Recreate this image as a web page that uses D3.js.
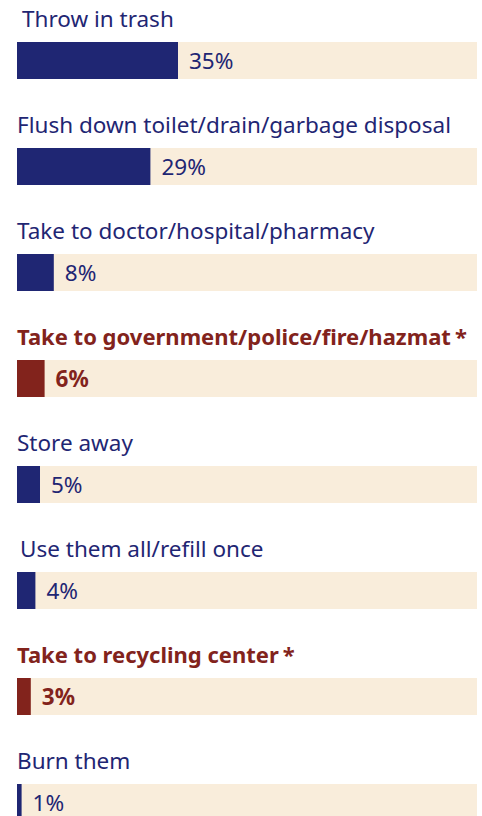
<!DOCTYPE html>
<html>
<head>
<meta charset="utf-8">
<script src="https://cdn.jsdelivr.net/npm/d3@7"></script>
<style>
  html, body { margin: 0; padding: 0; background: #fff; }
  svg text { font-family: "Noto Sans", "Open Sans", sans-serif; }
</style>
</head>
<body>
<svg id="chart" width="482" height="816"></svg>
<script>
  // Disposal methods, share of respondents (%)
  var categories = [
    'Throw in trash',
    'Flush down toilet/drain/garbage disposal',
    'Take to doctor/hospital/pharmacy',
    'Take to government/police/fire/hazmat',
    'Store away',
    'Use them all/refill once',
    'Take to recycling center',
    'Burn them'
  ];
  var values = [35, 29, 8, 6, 5, 4, 3, 1];
  // recommended methods are flagged with an asterisk and drawn in red
  var recommended = [false, false, false, true, false, false, true, false];

  var navy = '#1f2673';
  var red = '#82231c';
  var track = '#f9eddb';

  var svg = d3.select('#chart');

  var x = d3.scaleLinear().domain([0, 100]).range([17, 477]);
  var y = d3.scaleBand().domain(categories).range([0, 848]).paddingInner(0).paddingOuter(0);

  var barTop = 42, barH = 37;

  var row = svg.selectAll('g.row')
    .data(categories)
    .join('g')
    .attr('class', 'row')
    .attr('transform', function (d) { return 'translate(0,' + y(d) + ')'; });

  row.append('rect')
    .attr('x', x(0))
    .attr('y', barTop)
    .attr('width', x(100) - x(0))
    .attr('height', barH)
    .attr('fill', track);

  row.append('rect')
    .attr('x', x(0))
    .attr('y', barTop)
    .attr('width', function (d, i) { return x(values[i]) - x(0); })
    .attr('height', barH)
    .attr('fill', function (d, i) { return recommended[i] ? red : navy; });

  var label = row.append('text')
    .attr('x', function (d, i) { return i === 0 ? 22 : (i === 5 ? 20 : 17); })
    .attr('y', barTop - 15)
    .attr('font-size', function (d, i) { return recommended[i] ? '22px' : '22.5px'; })
    .attr('font-weight', function (d, i) { return recommended[i] ? 700 : 400; })
    .attr('fill', function (d, i) { return recommended[i] ? red : navy; });

  label.append('tspan').text(function (d) { return d; });
  label.filter(function (d, i) { return recommended[i]; })
    .append('tspan')
    .attr('dx', 4)
    .text('*');

  row.append('text')
    .attr('x', function (d, i) { return x(values[i]) + 11; })
    .attr('y', barTop + barH / 2)
    .attr('dy', '0.36em')
    .attr('font-size', '22.5px')
    .attr('font-weight', function (d, i) { return recommended[i] ? 700 : 400; })
    .attr('fill', function (d, i) { return recommended[i] ? red : navy; })
    .text(function (d, i) { return values[i] + '%'; });
</script>
</body>
</html>
